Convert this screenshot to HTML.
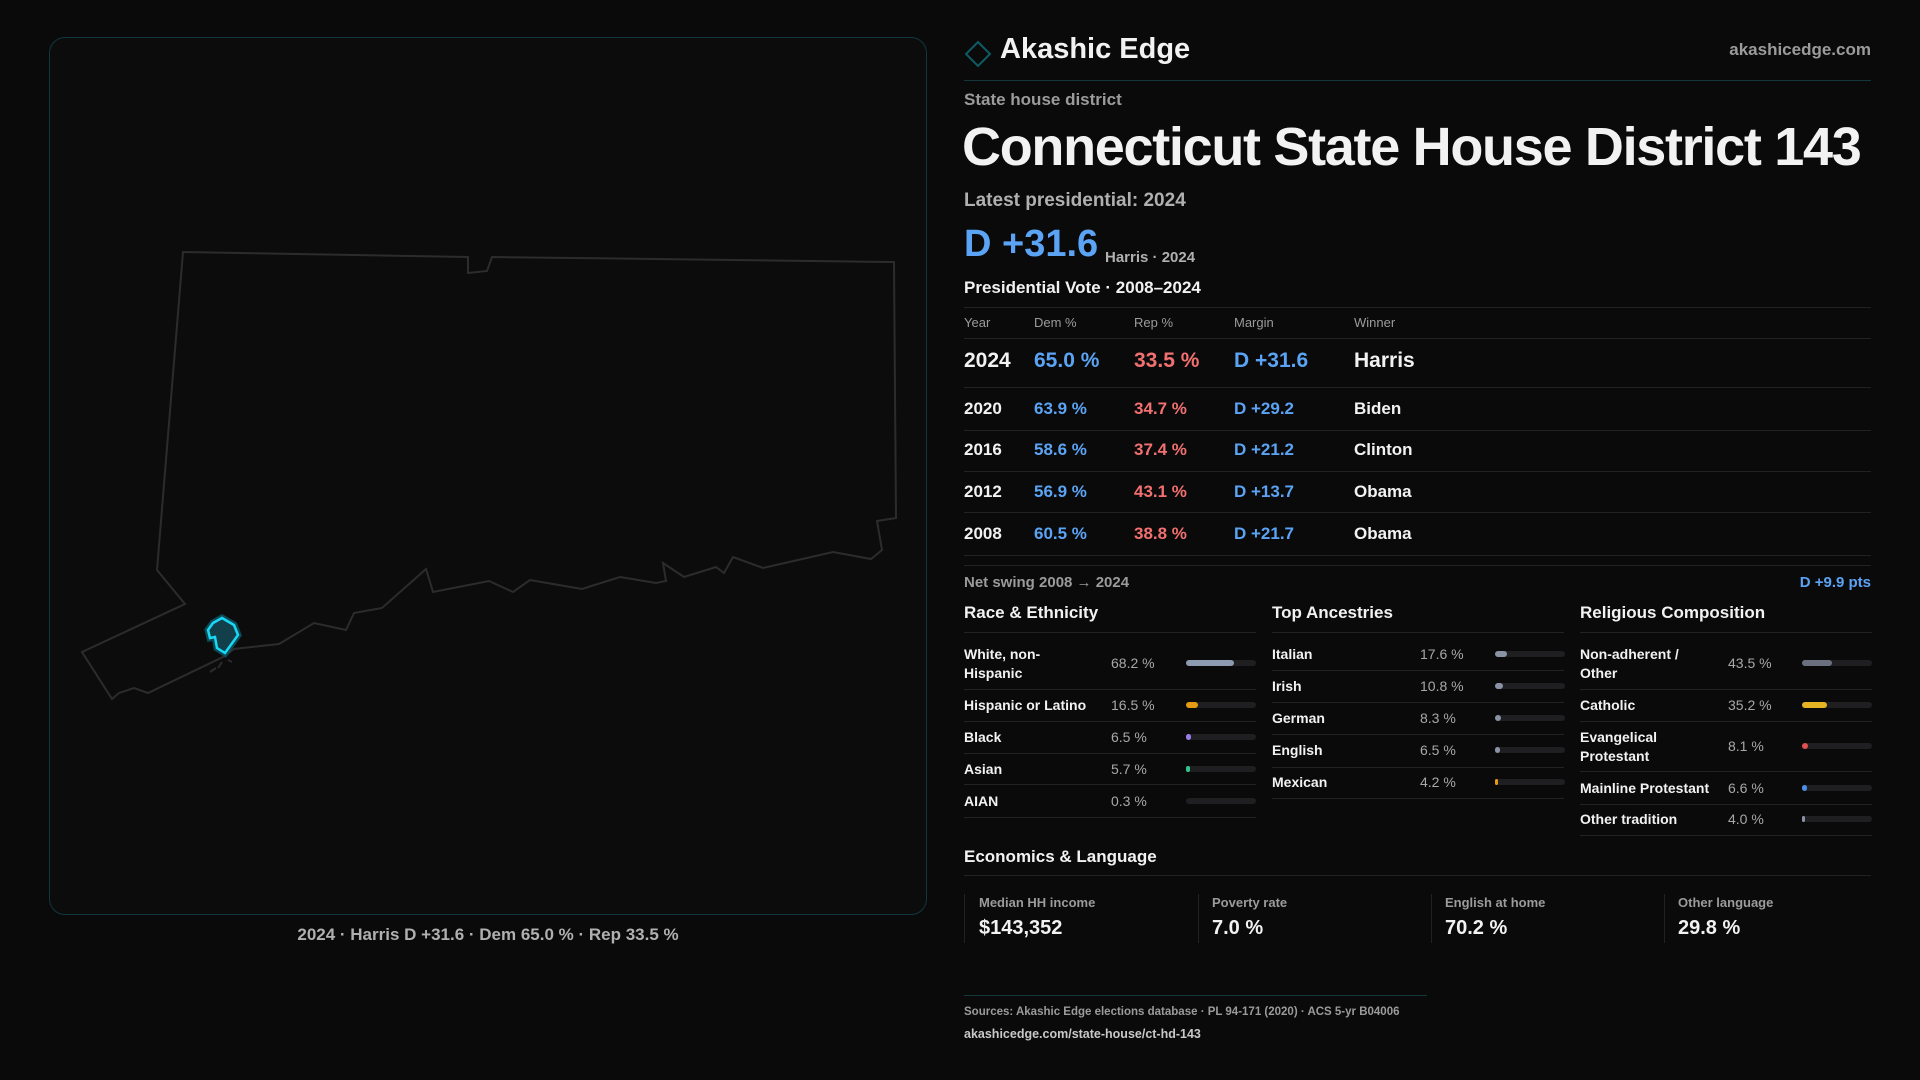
<!DOCTYPE html>
<html><head><meta charset="utf-8"><style>
*{margin:0;padding:0;box-sizing:border-box}
body{width:1920px;height:1080px;background:#0a0a0b;font-family:"Liberation Sans",sans-serif;color:#f2f2f2;position:relative;overflow:hidden}
.a{position:absolute;white-space:nowrap}
.g{color:#9b9b9b}.b{color:#5ba4f5}.r{color:#f27070}
.ln{position:absolute;height:1px;background:#222}
.bar{position:absolute;height:6px;border-radius:3px;background:#1f1f22;width:70px}
.bar i{position:absolute;left:0;top:0;height:6px;border-radius:3px}
.sm{font-size:14px;font-weight:bold}
.v{font-size:14px;color:#a8a8a8}
</style></head><body>
<div class="a" style="left:49px;top:37px;width:878px;height:878px;border:1px solid #12373c;border-radius:16px;background:#0c0c0d"></div>
<svg class="a" style="left:0;top:0" width="940" height="930">
<polygon fill="none" stroke="#2c2c2e" stroke-width="2" points="183,252 468,257 468,273 487,271 492,257 894,262 896,518 877,521 882,550 871,559 833,552 763,568 733,557 724,573 716,567 684,577 663,563 666,581 656,583 620,577 582,589 530,580 513,592 489,581 433,592 426,569 382,608 354,613 346,630 314,623 279,644 234,649 225,656 148,693 134,688 119,693 112,699 82,652 185,604 157,570"/>
<polygon fill="#0e3a44" stroke="#0e4a56" stroke-width="7" points="222,618 234,625 238,635 225,653 217,648 215,637 210,638 208,630 213,623"/>
<polygon fill="#123f4a" stroke="#18d8f5" stroke-width="2.5" points="222,618 234,625 238,635 225,653 217,648 215,637 210,638 208,630 213,623"/>
<path d="M218,668 l4,-6 M210,672 l6,-4 M228,660 l4,2" stroke="#2c2c2e" stroke-width="2"/>
</svg>
<div class="a g" style="left:49px;width:878px;text-align:center;top:925px;font-size:17px;font-weight:bold;color:#b0b0b0">2024 · Harris D +31.6 · Dem 65.0 % · Rep 33.5 %</div>

<svg class="a" style="left:964px;top:40px" width="28" height="28"><polygon points="14,2 26,14 14,26 2,14" fill="none" stroke="#0f5a64" stroke-width="2"/></svg>
<div class="a" style="left:1000px;top:33px;font-size:29px;font-weight:bold">Akashic Edge</div>
<div class="a g" style="right:49px;top:40px;font-size:17px;font-weight:bold">akashicedge.com</div>
<div class="ln" style="left:964px;width:907px;top:80px;background:#12373c"></div>
<div class="a g" style="left:964px;top:90px;font-size:17px;font-weight:bold">State house district</div>
<div class="a" style="left:962px;top:116px;font-size:54px;font-weight:bold;letter-spacing:-1.3px">Connecticut State House District 143</div>
<div class="a g" style="left:964px;top:190px;font-size:19px;font-weight:bold;color:#b0b0b0">Latest presidential: 2024</div>
<div class="a b" style="left:964px;top:223px;font-size:38px;font-weight:bold">D +31.6</div>
<div class="a g" style="left:1105px;top:249px;font-size:15px;font-weight:bold;color:#b0b0b0">Harris · 2024</div>
<div class="a" style="left:964px;top:278px;font-size:17px;font-weight:bold">Presidential Vote · 2008–2024</div>
<div class="ln" style="left:964px;width:907px;top:307px"></div>
<div class="a g" style="left:964px;top:315px;font-size:13px">Year</div>
<div class="a g" style="left:1034px;top:315px;font-size:13px">Dem %</div>
<div class="a g" style="left:1134px;top:315px;font-size:13px">Rep %</div>
<div class="a g" style="left:1234px;top:315px;font-size:13px">Margin</div>
<div class="a g" style="left:1354px;top:315px;font-size:13px">Winner</div>
<div class="ln" style="left:964px;width:907px;top:338px"></div>
<div class="a" style="left:964px;top:349px;font-size:21px;font-weight:bold">2024</div>
<div class="a b" style="left:1034px;top:349px;font-size:21px;font-weight:bold">65.0 %</div>
<div class="a r" style="left:1134px;top:349px;font-size:21px;font-weight:bold">33.5 %</div>
<div class="a b" style="left:1234px;top:349px;font-size:21px;font-weight:bold">D +31.6</div>
<div class="a" style="left:1354px;top:349px;font-size:21px;font-weight:bold">Harris</div>
<div class="ln" style="left:964px;width:907px;top:387px"></div>
<div class="a" style="left:964px;top:399px;font-size:17px;font-weight:bold">2020</div><div class="a b" style="left:1034px;top:399px;font-size:17px;font-weight:bold">63.9 %</div><div class="a r" style="left:1134px;top:399px;font-size:17px;font-weight:bold">34.7 %</div><div class="a b" style="left:1234px;top:399px;font-size:17px;font-weight:bold">D +29.2</div><div class="a" style="left:1354px;top:399px;font-size:17px;font-weight:bold">Biden</div>
<div class="ln" style="left:964px;width:907px;top:430px"></div>
<div class="a" style="left:964px;top:440px;font-size:17px;font-weight:bold">2016</div><div class="a b" style="left:1034px;top:440px;font-size:17px;font-weight:bold">58.6 %</div><div class="a r" style="left:1134px;top:440px;font-size:17px;font-weight:bold">37.4 %</div><div class="a b" style="left:1234px;top:440px;font-size:17px;font-weight:bold">D +21.2</div><div class="a" style="left:1354px;top:440px;font-size:17px;font-weight:bold">Clinton</div>
<div class="ln" style="left:964px;width:907px;top:471px"></div>
<div class="a" style="left:964px;top:482px;font-size:17px;font-weight:bold">2012</div><div class="a b" style="left:1034px;top:482px;font-size:17px;font-weight:bold">56.9 %</div><div class="a r" style="left:1134px;top:482px;font-size:17px;font-weight:bold">43.1 %</div><div class="a b" style="left:1234px;top:482px;font-size:17px;font-weight:bold">D +13.7</div><div class="a" style="left:1354px;top:482px;font-size:17px;font-weight:bold">Obama</div>
<div class="ln" style="left:964px;width:907px;top:512px"></div>
<div class="a" style="left:964px;top:524px;font-size:17px;font-weight:bold">2008</div><div class="a b" style="left:1034px;top:524px;font-size:17px;font-weight:bold">60.5 %</div><div class="a r" style="left:1134px;top:524px;font-size:17px;font-weight:bold">38.8 %</div><div class="a b" style="left:1234px;top:524px;font-size:17px;font-weight:bold">D +21.7</div><div class="a" style="left:1354px;top:524px;font-size:17px;font-weight:bold">Obama</div>
<div class="ln" style="left:964px;width:907px;top:555px"></div>
<div class="ln" style="left:964px;width:907px;top:565px"></div>
<div class="a g" style="left:964px;top:574px;font-size:15px;font-weight:bold">Net swing 2008 → 2024</div>
<div class="a b" style="right:49px;top:574px;font-size:15px;font-weight:bold">D +9.9 pts</div>

<div class="a" style="left:964px;top:603px;font-size:17px;font-weight:bold">Race &amp; Ethnicity</div>
<div class="a" style="left:1272px;top:603px;font-size:17px;font-weight:bold">Top Ancestries</div>
<div class="a" style="left:1580px;top:603px;font-size:17px;font-weight:bold">Religious Composition</div>
<div class="ln" style="left:964px;width:292px;top:632px"></div>
<div class="ln" style="left:1272px;width:292px;top:632px"></div>
<div class="ln" style="left:1580px;width:292px;top:632px"></div>

<div class="a sm" style="left:964px;top:645px;line-height:19px">White, non-<br>Hispanic</div><div class="a v" style="left:1111px;top:655px">68.2 %</div><div class="bar" style="left:1186px;top:660px"><i style="width:48px;background:#8c9bb0"></i></div>
<div class="ln" style="left:964px;width:292px;top:689px"></div>
<div class="a sm" style="left:964px;top:697px">Hispanic or Latino</div><div class="a v" style="left:1111px;top:697px">16.5 %</div><div class="bar" style="left:1186px;top:702px"><i style="width:12px;background:#e69a14"></i></div>
<div class="ln" style="left:964px;width:292px;top:721px"></div>
<div class="a sm" style="left:964px;top:729px">Black</div><div class="a v" style="left:1111px;top:729px">6.5 %</div><div class="bar" style="left:1186px;top:734px"><i style="width:5px;background:#9b7bea"></i></div>
<div class="ln" style="left:964px;width:292px;top:753px"></div>
<div class="a sm" style="left:964px;top:761px">Asian</div><div class="a v" style="left:1111px;top:761px">5.7 %</div><div class="bar" style="left:1186px;top:766px"><i style="width:4px;background:#2fc48d"></i></div>
<div class="ln" style="left:964px;width:292px;top:784px"></div>
<div class="a sm" style="left:964px;top:793px">AIAN</div><div class="a v" style="left:1111px;top:793px">0.3 %</div><div class="bar" style="left:1186px;top:798px"></div>
<div class="ln" style="left:964px;width:292px;top:817px"></div>

<div class="a sm" style="left:1272px;top:646px">Italian</div><div class="a v" style="left:1420px;top:646px">17.6 %</div><div class="bar" style="left:1495px;top:651px"><i style="width:12px;background:#8a93a3"></i></div>
<div class="ln" style="left:1272px;width:292px;top:670px"></div>
<div class="a sm" style="left:1272px;top:678px">Irish</div><div class="a v" style="left:1420px;top:678px">10.8 %</div><div class="bar" style="left:1495px;top:683px"><i style="width:8px;background:#8a93a3"></i></div>
<div class="ln" style="left:1272px;width:292px;top:702px"></div>
<div class="a sm" style="left:1272px;top:710px">German</div><div class="a v" style="left:1420px;top:710px">8.3 %</div><div class="bar" style="left:1495px;top:715px"><i style="width:6px;background:#8a93a3"></i></div>
<div class="ln" style="left:1272px;width:292px;top:734px"></div>
<div class="a sm" style="left:1272px;top:742px">English</div><div class="a v" style="left:1420px;top:742px">6.5 %</div><div class="bar" style="left:1495px;top:747px"><i style="width:5px;background:#8a93a3"></i></div>
<div class="ln" style="left:1272px;width:292px;top:767px"></div>
<div class="a sm" style="left:1272px;top:774px">Mexican</div><div class="a v" style="left:1420px;top:774px">4.2 %</div><div class="bar" style="left:1495px;top:779px"><i style="width:3px;background:#e69a14"></i></div>
<div class="ln" style="left:1272px;width:292px;top:798px"></div>

<div class="a sm" style="left:1580px;top:645px;line-height:19px">Non-adherent /<br>Other</div><div class="a v" style="left:1728px;top:655px">43.5 %</div><div class="bar" style="left:1802px;top:660px"><i style="width:30px;background:#6b7080"></i></div>
<div class="ln" style="left:1580px;width:292px;top:689px"></div>
<div class="a sm" style="left:1580px;top:697px">Catholic</div><div class="a v" style="left:1728px;top:697px">35.2 %</div><div class="bar" style="left:1802px;top:702px"><i style="width:25px;background:#e6b422"></i></div>
<div class="ln" style="left:1580px;width:292px;top:721px"></div>
<div class="a sm" style="left:1580px;top:728px;line-height:19px">Evangelical<br>Protestant</div><div class="a v" style="left:1728px;top:738px">8.1 %</div><div class="bar" style="left:1802px;top:743px"><i style="width:6px;background:#e05050"></i></div>
<div class="ln" style="left:1580px;width:292px;top:771px"></div>
<div class="a sm" style="left:1580px;top:780px">Mainline Protestant</div><div class="a v" style="left:1728px;top:780px">6.6 %</div><div class="bar" style="left:1802px;top:785px"><i style="width:5px;background:#4a8ee8"></i></div>
<div class="ln" style="left:1580px;width:292px;top:804px"></div>
<div class="a sm" style="left:1580px;top:811px">Other tradition</div><div class="a v" style="left:1728px;top:811px">4.0 %</div><div class="bar" style="left:1802px;top:816px"><i style="width:3px;background:#8a93a3"></i></div>
<div class="ln" style="left:1580px;width:292px;top:835px"></div>

<div class="a" style="left:964px;top:847px;font-size:17px;font-weight:bold">Economics &amp; Language</div>
<div class="ln" style="left:964px;width:907px;top:875px"></div>
<div class="a" style="left:964px;top:894px;width:1px;height:49px;background:#222"></div>
<div class="a" style="left:1198px;top:894px;width:1px;height:49px;background:#222"></div>
<div class="a" style="left:1431px;top:894px;width:1px;height:49px;background:#222"></div>
<div class="a" style="left:1664px;top:894px;width:1px;height:49px;background:#222"></div>
<div class="a g" style="left:979px;top:895px;font-size:13px;font-weight:bold">Median HH income</div><div class="a" style="left:979px;top:917px;font-size:20px;font-weight:bold">$143,352</div>
<div class="a g" style="left:1212px;top:895px;font-size:13px;font-weight:bold">Poverty rate</div><div class="a" style="left:1212px;top:917px;font-size:20px;font-weight:bold">7.0 %</div>
<div class="a g" style="left:1445px;top:895px;font-size:13px;font-weight:bold">English at home</div><div class="a" style="left:1445px;top:917px;font-size:20px;font-weight:bold">70.2 %</div>
<div class="a g" style="left:1678px;top:895px;font-size:13px;font-weight:bold">Other language</div><div class="a" style="left:1678px;top:917px;font-size:20px;font-weight:bold">29.8 %</div>

<div class="ln" style="left:964px;width:463px;top:995px;background:#12373c"></div>
<div class="a g" style="left:964px;top:1006px;font-size:11.5px;font-weight:bold">Sources: Akashic Edge elections database · PL 94-171 (2020) · ACS 5-yr B04006</div>
<div class="a" style="left:964px;top:1027px;font-size:12.5px;font-weight:bold;color:#c8c8c8">akashicedge.com/state-house/ct-hd-143</div>
</body></html>
